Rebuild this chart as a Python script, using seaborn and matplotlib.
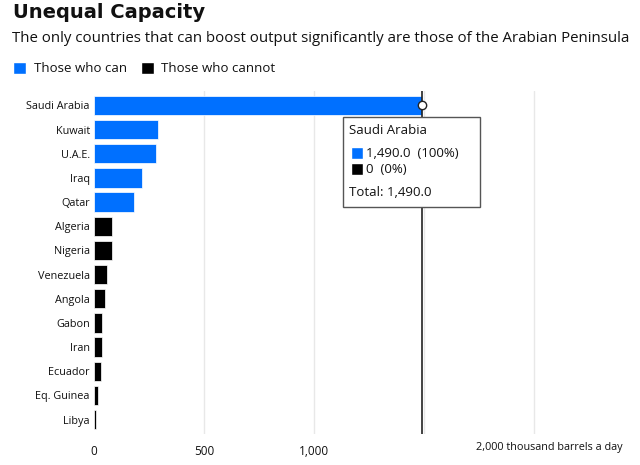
import matplotlib
matplotlib.use("Agg")
import matplotlib.pyplot as plt
import seaborn as sns
import pandas as pd
from matplotlib.patches import Rectangle

countries = ["Saudi Arabia", "Kuwait", "U.A.E.", "Iraq", "Qatar", "Algeria", "Nigeria",
             "Venezuela", "Angola", "Gabon", "Iran", "Ecuador", "Eq. Guinea", "Libya"]
values = [1490, 290, 280, 220, 180, 80, 80, 60, 48, 38, 38, 33, 20, 10]
groups = ["Those who can"] * 5 + ["Those who cannot"] * 9
group_colors = {"Those who can": "#0070ff", "Those who cannot": "#000000"}
tick_values = [0, 500, 1000, 2000]
tick_labels = ["0", "500", "1,000", ""]

df = pd.DataFrame({"country": countries, "value": values, "group": groups})

sns.set_theme(style="white")
plt.rcParams["font.family"] = ["Open Sans", "DejaVu Sans"]
TXT = "#111111"

fig = plt.figure(figsize=(6.4, 4.65), dpi=100)
ax = fig.add_axes([94 / 640, 1 - 434 / 465, (622 - 94) / 640, (434 - 91) / 465])

sns.barplot(data=df, y="country", x="value", hue="group", palette=group_colors,
            dodge=False, legend=False, width=0.8, ax=ax, orient="h", saturation=1,
            edgecolor="white", linewidth=0.5)

ax.set_xlim(0, 2400)
ax.set_ylim(13.6, -0.6)
for g in [500, 1000, 1500, 2000]:
    ax.axvline(g, color="#e8e8e8", lw=1, zorder=0)
ax.set_xticks(tick_values)
ax.set_xticklabels(tick_labels)
ax.tick_params(axis="x", length=0, labelsize=8.5, pad=8, colors=TXT)
ax.tick_params(axis="y", length=0, labelsize=7.8, pad=3, colors=TXT)
ax.set_xlabel("")
ax.set_ylabel("")
for s in ax.spines.values():
    s.set_visible(False)
fig.text(476 / 640, 1 - 447 / 465, "2,000 thousand barrels a day", fontsize=7.8,
         ha="left", va="center", color=TXT)

# hover crosshair and tooltip
sa = values[0]
ax.axvline(sa, color="#222222", lw=1.2, zorder=5)
ax.plot([sa], [0], marker="o", ms=6, mfc="white", mec="#222222", mew=1, zorder=6)

tx0, ty0, tw, th = 343 / 640, 1 - 207 / 465, (480 - 343) / 640, (207 - 117) / 465
fig.patches.append(Rectangle((tx0, ty0), tw, th, transform=fig.transFigure,
                             facecolor="white", edgecolor="#555555", lw=1, zorder=10))
fig.text(349 / 640, 1 - 131 / 465, "Saudi Arabia", fontsize=9.5, va="center", zorder=11, color=TXT)
fig.patches.append(Rectangle((351 / 640, 1 - 159 / 465), 12 / 640, 12 / 465,
                             transform=fig.transFigure, facecolor="#0070ff", zorder=11))
fig.text(366 / 640, 1 - 153 / 465, "1,490.0  (100%)", fontsize=9.5, va="center", zorder=11, color=TXT)
fig.patches.append(Rectangle((351 / 640, 1 - 175 / 465), 12 / 640, 12 / 465,
                             transform=fig.transFigure, facecolor="#000000", zorder=11))
fig.text(366 / 640, 1 - 169 / 465, "0  (0%)", fontsize=9.5, va="center", zorder=11, color=TXT)
fig.text(349 / 640, 1 - 193 / 465, "Total: 1,490.0", fontsize=9.5, va="center", zorder=11, color=TXT)

# titles
fig.text(13 / 640, 1 - 13 / 465, "Unequal Capacity", fontsize=14, fontweight="bold",
         va="center", ha="left", family=["DejaVu Sans"], color=TXT)
fig.text(12 / 640, 1 - 39 / 465,
         "The only countries that can boost output significantly are those of the Arabian Peninsula",
         fontsize=10.8, va="center", ha="left", color=TXT)

# legend
fig.patches.append(Rectangle((13 / 640, 1 - 74 / 465), 13 / 640, 12 / 465,
                             transform=fig.transFigure, facecolor="#0070ff"))
fig.text(34 / 640, 1 - 68 / 465, "Those who can", fontsize=9.5, va="center", color=TXT)
fig.patches.append(Rectangle((141 / 640, 1 - 74 / 465), 13 / 640, 12 / 465,
                             transform=fig.transFigure, facecolor="#000000"))
fig.text(161 / 640, 1 - 68 / 465, "Those who cannot", fontsize=9.5, va="center", color=TXT)

fig.savefig("out.png", dpi=100)
